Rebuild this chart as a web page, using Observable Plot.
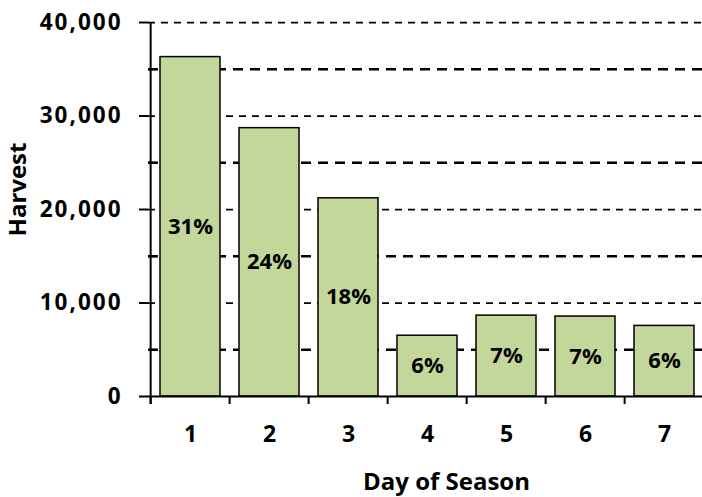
<!DOCTYPE html>
<html>
<head>
<meta charset="utf-8">
<script src="https://cdn.jsdelivr.net/npm/d3@7"></script>
<script src="https://cdn.jsdelivr.net/npm/@observablehq/plot@0.6"></script>
<style>
  html, body { margin: 0; padding: 0; background: white; overflow: hidden; color: black; }
  g[aria-label="y-axis tick label"] text { letter-spacing: 2px; }
</style>
</head>
<body>
<div id="chart"></div>
<script>
const days = [1, 2, 3, 4, 5, 6, 7];
const harvest = [36300, 28700, 21200, 6500, 8650, 8550, 7550];
const majorTicks = [0, 10000, 20000, 30000, 40000];
const minorTicks = [5000, 15000, 25000, 35000];
const xTitle = "Day of Season";
const yTitle = "Harvest";

const data = days.map((d, i) => ({day: d, harvest: harvest[i]}));
const total = d3.sum(harvest);
const pct = d3.format(".0%");

const W = 706, H = 497, mL = 148, mR = 0, mT = 22, mB = 101;
const frameW = W - mL - mR, frameH = H - mT - mB;
const step = frameW / days.length;
const font = "'Open Sans', sans-serif";

const chart = Plot.plot({
  width: W, height: H,
  marginLeft: mL, marginRight: mR, marginTop: mT, marginBottom: mB,
  style: {maxWidth: "none", background: "white", color: "black", fontFamily: font},
  x: {domain: days, paddingInner: 0.235, paddingOuter: 0.1175},
  y: {domain: [0, 40000]},
  marks: [
    Plot.ruleY(minorTicks, {stroke: "black", strokeWidth: 2.5, strokeDasharray: "10,7"}),
    Plot.ruleY(majorTicks.filter(v => v > 0), {stroke: "black", strokeWidth: 1.75, strokeDasharray: "7,6"}),
    Plot.barY(data, {x: "day", y: "harvest", fill: "#c4d79b", stroke: "black", strokeWidth: 1.5}),
    Plot.text(data, {x: "day", y: d => d.harvest / 2, text: d => pct(d.harvest / total),
      fontSize: 22, fontWeight: "bold", fill: "black"}),
    // minor ticks (inside)
    Plot.ruleY(minorTicks, {stroke: "black", strokeWidth: 2, insetRight: frameW - 9}),
    // y axis line
    Plot.ruleX([days[0]], {x: d => d, dx: -step / 2, stroke: "black", strokeWidth: 2, insetBottom: -8}),
    // x axis line
    Plot.ruleY([0], {stroke: "black", strokeWidth: 2}),
    // category boundary ticks
    Plot.ruleX(days, {x: d => d, dx: -step / 2, stroke: "black", strokeWidth: 2, insetTop: frameH, insetBottom: -8}),
    Plot.axisY({ticks: majorTicks, tickSize: 9, tickPadding: 17, tickFormat: d3.format(","),
      fontSize: 22.5, fontWeight: "bold", strokeWidth: 2, label: null, fill: "black"}),
    Plot.axisX({tickSize: 0, tickPadding: 29, fontSize: 23, fontWeight: "bold", label: null, fill: "black"}),
    Plot.text([xTitle], {frameAnchor: "bottom", textAnchor: "middle", lineAnchor: "middle", dx: 19, dy: 86,
      fontSize: 24, fontWeight: "bold", fill: "black"}),
    Plot.text([yTitle], {frameAnchor: "left", textAnchor: "middle", lineAnchor: "middle", rotate: -90, dx: -130, dy: -20,
      fontSize: 24, fontWeight: "bold", fill: "black"})
  ]
});
document.getElementById("chart").appendChild(chart);
</script>
</body>
</html>
